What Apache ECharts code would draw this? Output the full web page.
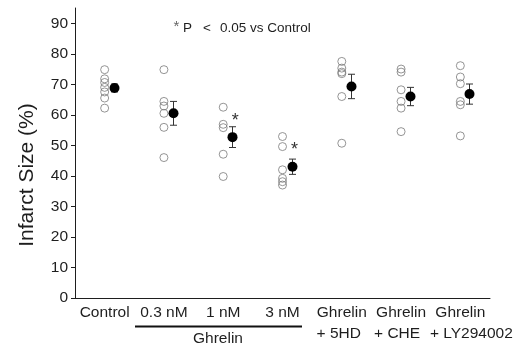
<!DOCTYPE html>
<html>
<head>
<meta charset="utf-8">
<script src="https://cdn.jsdelivr.net/npm/echarts@6/dist/echarts.min.js"></script>
<style>html,body{margin:0;padding:0;background:#fff;}#chart{width:521px;height:345px;}</style>
</head>
<body>
<div id="chart"></div>
<script>
// ---- data ----
const categories = ['Control', '0.3 nM', '1 nM', '3 nM', 'Ghrelin', 'Ghrelin', 'Ghrelin'];
const subLabels = ['', '', '', '', '+ 5HD', '+ CHE', '+ LY294002'];
const yTicks = [0, 10, 20, 30, 40, 50, 60, 70, 80, 90];

const controlVals = [74.8, 71.8, 70.6, 69.0, 67.5, 65.5, 62.2];
const ghr03Vals = [74.8, 64.4, 62.9, 60.5, 55.9, 46.0];
const ghr1Vals = [62.5, 56.9, 55.8, 47.1, 39.8];
const ghr3Vals = [52.9, 49.6, 42.0, 39.2, 38.1, 37.0];
const hdVals = [77.5, 75.3, 74.0, 73.5, 66.0, 50.7];
const cheVals = [75.0, 74.0, 68.2, 64.4, 62.2, 54.5];
const lyVals = [76.1, 72.4, 70.2, 64.4, 63.3, 53.1];

const means = [68.8, 60.5, 52.7, 43.0, 69.3, 66.0, 66.8];
const sems = [1.3, 3.9, 3.4, 2.5, 4.0, 3.0, 3.3];
const starY = [null, null, 59.4, 49.9, null, null, null];

const groups = [controlVals, ghr03Vals, ghr1Vals, ghr3Vals, hdVals, cheVals, lyVals];

// ---- build ----
const FONT = "'Liberation Sans', Arial, sans-serif";
const TXT = '#1e1e1e';
const scatterData = [];
groups.forEach((g, i) => g.forEach(v => scatterData.push([i, v])));

const chart = echarts.init(document.getElementById('chart'), null, {renderer: 'canvas'});
chart.setOption({
  backgroundColor: '#fff',
  animation: false,
  grid: {left: 75, right: 31, top: 8, bottom: 47},
  xAxis: {
    type: 'category',
    data: categories,
    boundaryGap: true,
    axisLine: {lineStyle: {color: TXT, width: 1}},
    axisTick: {alignWithLabel: true, length: 3, lineStyle: {color: TXT}},
    axisLabel: {
      interval: 0,
      margin: 4,
      color: TXT,
      fontFamily: FONT,
      fontSize: 15.5,
      lineHeight: 21,
      formatter: function (value, index) {
        if (subLabels[index]) return '{a|' + value + '}\n{p' + index + '|' + subLabels[index] + '}';
        return '{a|' + value + '}';
      },
      rich: {
        a: {fontFamily: FONT, fontSize: 15.5, lineHeight: 21, color: TXT},
        p4: {fontFamily: FONT, fontSize: 15.5, lineHeight: 21, color: TXT, padding: [0, 6, 0, 0]},
        p5: {fontFamily: FONT, fontSize: 15.5, lineHeight: 21, color: TXT, padding: [0, 8, 0, 0]},
        p6: {fontFamily: FONT, fontSize: 15.5, lineHeight: 21, color: TXT, padding: [0, 0, 0, 22]}
      }
    },
    splitLine: {show: false}
  },
  yAxis: {
    type: 'value',
    min: 0,
    max: 95,
    interval: 10,
    axisLine: {show: true, lineStyle: {color: TXT, width: 1}},
    axisTick: {show: true, length: 4, customValues: yTicks, lineStyle: {color: TXT}},
    axisLabel: {margin: 7, color: TXT, fontFamily: FONT, fontSize: 15.5, customValues: yTicks},
    splitLine: {show: false}
  },
  graphic: [
    {type: 'text', x: 27, y: 175, rotation: Math.PI / 2,
     style: {text: 'Infarct Size (%)', fill: TXT, font: '21px ' + FONT, align: 'center', verticalAlign: 'middle'}},
    {type: 'text', x: 176.5, y: 27, style: {text: '*', fill: '#666', font: '15px ' + FONT, align: 'center', verticalAlign: 'middle'}},
    {type: 'text', x: 183, y: 28, style: {text: 'P', fill: TXT, font: '13.5px ' + FONT, align: 'left', verticalAlign: 'middle'}},
    {type: 'text', x: 203, y: 28, style: {text: '<', fill: TXT, font: '13.5px ' + FONT, align: 'left', verticalAlign: 'middle'}},
    {type: 'text', x: 220, y: 28, style: {text: '0.05 vs Control', fill: TXT, font: '13.5px ' + FONT, align: 'left', verticalAlign: 'middle'}},
    {type: 'line', shape: {x1: 135, y1: 326.5, x2: 302, y2: 326.5}, style: {stroke: '#111', lineWidth: 2}},
    {type: 'text', x: 218, y: 339, style: {text: 'Ghrelin', fill: TXT, font: '15.5px ' + FONT, align: 'center', verticalAlign: 'middle'}}
  ],
  series: [
    {
      type: 'scatter',
      data: scatterData,
      symbol: 'circle',
      symbolSize: 8,
      itemStyle: {color: 'rgba(0,0,0,0)', borderColor: '#7a7a7a', borderWidth: 1},
      z: 2
    },
    {
      type: 'custom',
      data: means.map((m, i) => [i, m, sems[i]]),
      z: 3,
      renderItem: function (params, api) {
        const i = api.value(0), m = api.value(1), s = api.value(2);
        const c = api.coord([i, m]);
        const x = Math.round(c[0] + 9) + 0.5;
        const yt = api.coord([i, m + s])[1];
        const yb = api.coord([i, m - s])[1];
        const cw = 3.5;
        const children = [
          {type: 'line', shape: {x1: x, y1: yt, x2: x, y2: yb}, style: {stroke: '#333', lineWidth: 1}},
          {type: 'line', shape: {x1: x - cw, y1: yt, x2: x + cw, y2: yt}, style: {stroke: '#333', lineWidth: 1}},
          {type: 'line', shape: {x1: x - cw, y1: yb, x2: x + cw, y2: yb}, style: {stroke: '#333', lineWidth: 1}},
          {type: 'circle', shape: {cx: x, cy: c[1], r: 5}, style: {fill: '#000'}}
        ];
        const sy = starY[params.dataIndex];
        if (sy != null) {
          const sp = api.coord([i, sy]);
          children.push({type: 'text', x: sp[0] + 12, y: sp[1] + 4,
            style: {text: '*', fill: '#333', font: '18px ' + FONT, align: 'center', verticalAlign: 'middle'}});
        }
        return {type: 'group', children: children};
      }
    }
  ]
});
</script>
</body>
</html>
